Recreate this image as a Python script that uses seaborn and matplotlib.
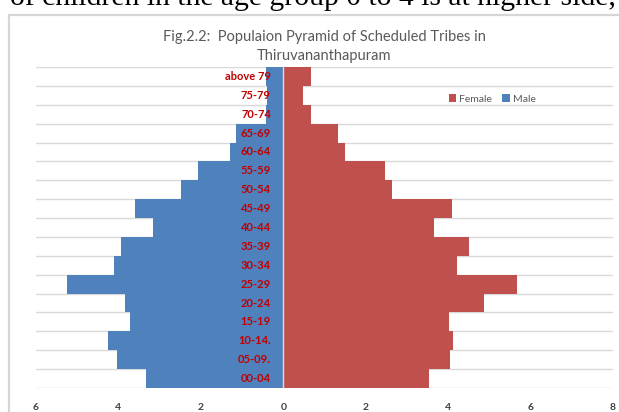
import numpy as np
import pandas as pd
import matplotlib
matplotlib.use("Agg")
import matplotlib.pyplot as plt
from matplotlib.patches import Rectangle
from matplotlib.ticker import FuncFormatter
import seaborn as sns

ages = ["above 79", "75-79", "70-74", "65-69", "60-64", "55-59", "50-54",
        "45-49", "40-44", "35-39", "30-34", "25-29", "20-24", "15-19",
        "10-14.", "05-09.", "00-04"]
male = [0.43, 0.40, 0.43, 1.14, 1.29, 2.07, 2.47, 3.60, 3.16, 3.94, 4.10,
        5.25, 3.85, 3.73, 4.25, 4.03, 3.34]
female = [0.67, 0.49, 0.67, 1.32, 1.49, 2.48, 2.63, 4.09, 3.66, 4.50, 4.22,
          5.67, 4.87, 4.01, 4.12, 4.04, 3.53]
xticks = [-6, -4, -2, 0, 2, 4, 6, 8]

title_l1 = "Fig.2.2:  Populaion Pyramid of Scheduled Tribes in"
title_l2 = "Thiruvananthapuram"
top_text = "of children in the age group 0 to 4 is at higher side,"

sns.set_style("white")
plt.rcParams["font.family"] = ["Lato", "DejaVu Sans"]

W, H = 619, 412
fig = plt.figure(figsize=(W / 100, H / 100), dpi=100)
ax = fig.add_axes([36 / W, (H - 388) / H, (613 - 36) / W, (388 - 67) / H])

df = pd.DataFrame({
    "age": ages + ages,
    "value": [-m for m in male] + female,
    "sex": ["Male"] * len(ages) + ["Female"] * len(ages),
})

sns.barplot(data=df, y="age", x="value", hue="sex", hue_order=["Female", "Male"],
            order=ages, orient="h", dodge=False, width=1.0, saturation=1,
            palette={"Female": "#c0504d", "Male": "#4f81bd"},
            linewidth=0, ax=ax)

ax.set_xlim(-6, 8)
ax.set_ylim(len(ages) - 0.5, -0.5)
ax.set_xticks(xticks)
ax.xaxis.set_major_formatter(FuncFormatter(lambda v, p: f"{abs(int(v))}"))
ax.tick_params(axis="x", length=0, pad=11, labelsize=7.5, labelcolor="#404040")
for lab in ax.get_xticklabels():
    lab.set_fontweight("bold")
ax.set_yticks([])
ax.set_yticks(np.arange(-0.5, len(ages)), minor=True)
ax.tick_params(axis="y", which="both", length=0)
ax.grid(which="minor", axis="y", color="#d9d9d9", lw=1.0)
ax.set_axisbelow(True)
ax.set_xlabel("")
ax.set_ylabel("")
for s in ax.spines.values():
    s.set_visible(False)
ax.axvline(0, color="#dcdcdc", lw=1.0, zorder=5)

for i, a in enumerate(ages):
    ax.text(-0.3, i, a, ha="right", va="center", color="#c00000",
            fontweight="bold", fontsize=8, zorder=6)

h, l = ax.get_legend_handles_labels()
if ax.get_legend() is not None:
    ax.get_legend().remove()
fig.legend(h, l, loc="center", bbox_to_anchor=(492 / W, 1 - 99 / H), ncol=2,
           frameon=False, fontsize=7.5, labelcolor="#595959",
           handlelength=0.7, handleheight=0.7, handletextpad=0.3,
           columnspacing=1.0, borderpad=0)

fig.text(324 / W, 1 - 37 / H, title_l1,
         ha="center", va="center", fontsize=10.5, color="#595959")
fig.text(324 / W, 1 - 56 / H, title_l2,
         ha="center", va="center", fontsize=10.5, color="#595959")

fig.add_artist(Rectangle((9 / W, -0.1), 1.0, (H - 15) / H + 0.1, fill=False,
                         ec="#d6d6d6", lw=1.6, transform=fig.transFigure))

t = fig.text(10 / W, 1 - 5 / H, top_text, ha="left", va="baseline",
             fontsize=10, color="black", family=["Liberation Serif"])
fig.canvas.draw()
wpx = t.get_window_extent(fig.canvas.get_renderer()).width
t.set_fontsize(10 * 605 / wpx)

fig.savefig("out.png", dpi=100)
